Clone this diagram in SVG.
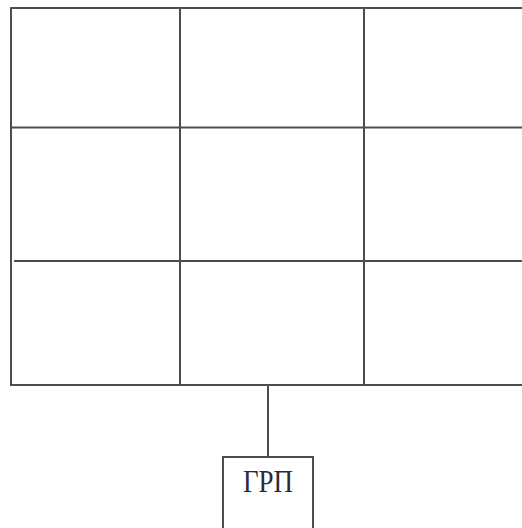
<svg xmlns="http://www.w3.org/2000/svg" width="522" height="528" viewBox="0 0 522 528">
<style>
.ln{stroke:#4d4d4d;stroke-width:2;fill:none}
.lbl{font-family:"Liberation Serif","Times New Roman",serif;font-size:31px;fill:#2a2a3a}
</style>
<rect width="522" height="528" fill="#ffffff"/>
<g id="grid" class="ln">
<line x1="10" y1="8" x2="522" y2="8"/>
<line x1="11" y1="127.5" x2="522" y2="127.5"/>
<line x1="14" y1="261" x2="522" y2="261"/>
<line x1="10" y1="385" x2="522" y2="385"/>
<line x1="11" y1="8" x2="11" y2="385"/>
<line x1="180" y1="8" x2="180" y2="385"/>
<line x1="364" y1="8" x2="364" y2="385"/>
</g>
<g id="connectors" class="ln">
<line x1="268" y1="385" x2="268" y2="457"/>
</g>
<g id="grp">
<rect class="ln" x="223" y="457" width="90" height="80"/>
<text class="lbl" transform="translate(268,491.5) scale(0.87,1)" x="0" y="0" text-anchor="middle">ГРП</text>
</g>
</svg>
